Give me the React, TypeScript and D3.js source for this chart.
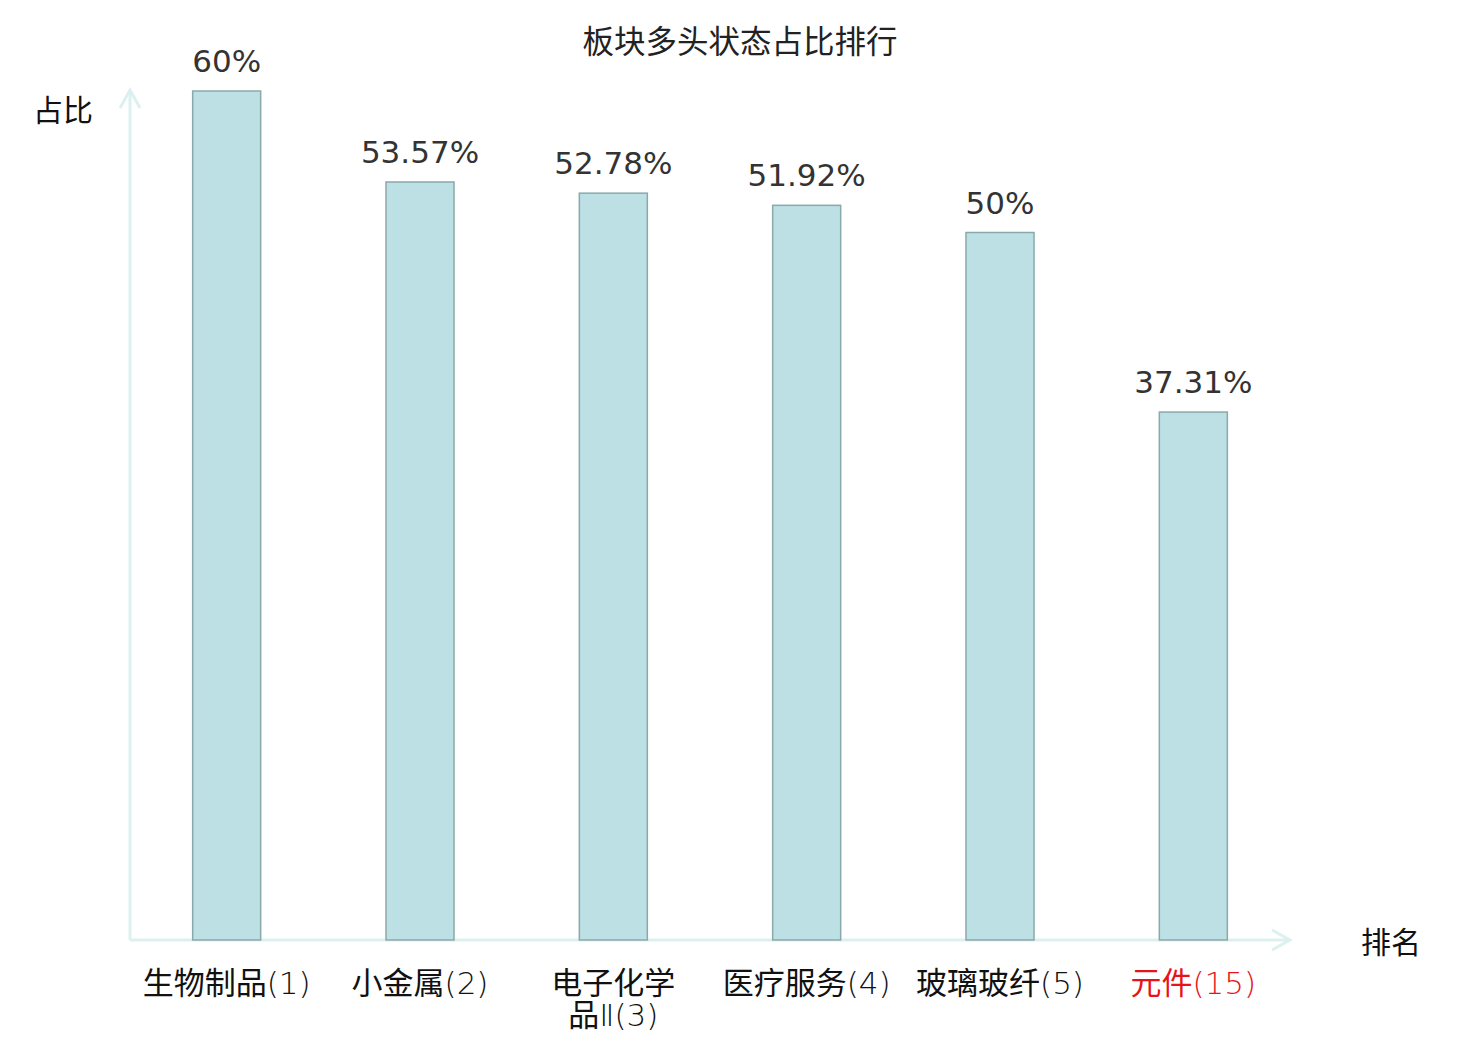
import React from 'react';
import * as d3 from 'd3';

const categories = ['生物制品(1)', '小金属(2)', '电子化学品Ⅱ(3)', '医疗服务(4)', '玻璃玻纤(5)', '元件(15)'];
const labelLines = [['生物制品(1)'], ['小金属(2)'], ['电子化学', '品Ⅱ(3)'], ['医疗服务(4)'], ['玻璃玻纤(5)'], ['元件(15)']];
const values = [60, 53.57, 52.78, 51.92, 50, 37.31];
const valueLabels = ['60%', '53.57%', '52.78%', '51.92%', '50%', '37.31%'];
const highlight = ['元件(15)'];

const W = 1480;
const H = 1040;
const x0 = 130;
const x1 = 1290;
const yBase = 940;
const yTop = 91;

const cjk = '"Noto Sans CJK SC", "DejaVu Sans", sans-serif';
const num = '"DejaVu Sans", "Noto Sans CJK SC", sans-serif';

// CJK runs in regular weight, the rest (brackets, digits) in a light weight
const pieces = (s: string) => s.split(/([\u4e00-\u9fff]+)/).filter(p => p.length > 0);

const App: React.FC = () => {
  const xScale = d3.scaleBand().domain(categories).range([x0, x1]).paddingInner(0).paddingOuter(0);
  const yScale = d3.scaleLinear().domain([0, 60]).range([yBase, yTop]);
  const barW = 68;
  const axisColor = '#dcf1ef';

  return (
    <svg width={W} height={H} style={{ position: 'absolute', left: 0, top: 0, background: '#fff' }}>
      <text x={740} y={53} textAnchor="middle" fontSize={31.5} fontFamily={cjk} fill="#222">板块多头状态占比排行</text>

      {/* axes */}
      <line x1={x0} y1={yBase} x2={x0} y2={90} stroke={axisColor} strokeWidth={3} />
      <polyline points={`${x0 - 10},${108} ${x0},${90} ${x0 + 10},${108}`} fill="none" stroke={axisColor} strokeWidth={3} />
      <line x1={x0} y1={yBase} x2={x1} y2={yBase} stroke={axisColor} strokeWidth={3} />
      <polyline points={`${x1 - 18},${yBase - 10} ${x1},${yBase} ${x1 - 18},${yBase + 10}`} fill="none" stroke={axisColor} strokeWidth={3} />
      <text x={63} y={121} textAnchor="middle" fontSize={30} fontFamily={cjk} fill="#111">占比</text>
      <text x={1391} y={953} textAnchor="middle" fontSize={30} fontFamily={cjk} fill="#111">排名</text>

      {categories.map((c, i) => {
        const cx = (xScale(c) || 0) + xScale.bandwidth() / 2;
        const y = yScale(values[i]);
        return (
          <g key={c}>
            <rect x={cx - barW / 2} y={y} width={barW} height={yBase - y} fill="#bce0e3" stroke="#8aa9ab" strokeWidth={1.5} />
            <text x={cx} y={y - 19} textAnchor="middle" fontSize={31} fontFamily={num} fill="#333">{valueLabels[i]}</text>
            {labelLines[i].map((ln, j) => (
              <text key={j} x={cx} y={994 + j * 32} textAnchor="middle" fontSize={31}
                fill={highlight.includes(c) ? '#e8131a' : '#111'}>
                {pieces(ln).map((p, k) => /[\u4e00-\u9fff]/.test(p)
                  ? <tspan key={k} fontFamily={cjk} fontWeight={400}>{p}</tspan>
                  : <tspan key={k} fontFamily={num} fontWeight={200}>{p}</tspan>)}
              </text>
            ))}
          </g>
        );
      })}
    </svg>
  );
};

export default App;
